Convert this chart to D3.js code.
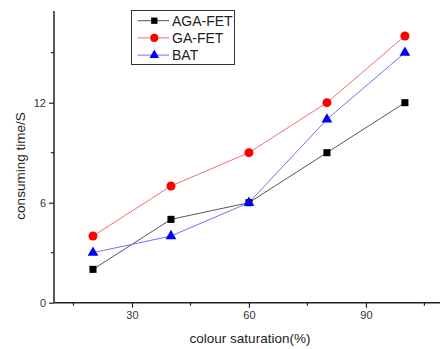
<!DOCTYPE html>
<html><head><meta charset="utf-8">
<script src="https://cdn.jsdelivr.net/npm/d3@7/dist/d3.min.js"></script>
<style>body{margin:0;background:#fff}svg{display:block;font-family:"Liberation Sans",Arial,sans-serif}</style>
</head><body><svg id="c" width="440" height="349"></svg>
<script>
const saturation = [20, 40, 60, 80, 100];
const agaFet = [2, 5, 6, 9, 12];
const gaFet = [4, 7, 9, 12, 16];
const bat = [3, 4, 6, 11, 15];
const seriesNames = ["AGA-FET", "GA-FET", "BAT"];
const xTicks = [30, 60, 90];
const yTicks = [0, 6, 12];

const svg = d3.select("#c");
const x = d3.scaleLinear().domain([10, 109]).range([54, 440]);
const y = d3.scaleLinear().domain([0, 17.5]).range([302.7, 11]);

const series = [
  {name: seriesNames[0], vals: agaFet, color: "#000", line: "#555", shape: d3.symbolSquare, size: 50},
  {name: seriesNames[1], vals: gaFet, color: "#f00", line: "#f07070", shape: d3.symbolCircle, size: 64},
  {name: seriesNames[2], vals: bat, color: "#00f", line: "#7070f0", shape: d3.symbolTriangle, size: 50}
];

// axes
const xAxis = d3.axisBottom(x).tickValues(xTicks).tickSize(5).tickPadding(4);
const gx = svg.append("g").attr("transform", `translate(0,${y(0)})`).call(xAxis);
const yAxis = d3.axisLeft(y).tickValues(yTicks).tickSize(5).tickPadding(3);
const gy = svg.append("g").attr("transform", `translate(${x(10)},0)`).call(yAxis);
[gx, gy].forEach(g => {
  g.select(".domain").attr("stroke", "#222").attr("stroke-width", 1.5);
  g.selectAll(".tick line").attr("stroke", "#222").attr("stroke-width", 1.2);
  g.selectAll(".tick text").attr("font-size", 11).attr("fill", "#333").attr("font-family", '"Liberation Sans",Arial,sans-serif');
});
gx.select(".domain").attr("d", `M${x(10)},0H440`);
gy.select(".domain").attr("d", `M0,${y(17.5)}V${y(0)}`);
// minor ticks
svg.append("g").selectAll("line").data([15, 45, 75, 105]).join("line")
  .attr("x1", d => x(d)).attr("x2", d => x(d)).attr("y1", y(0)).attr("y2", y(0) + 3)
  .attr("stroke", "#222").attr("stroke-width", 1.2);
svg.append("g").selectAll("line").data([3, 9, 15]).join("line")
  .attr("x1", x(10)).attr("x2", x(10) - 3).attr("y1", d => y(d)).attr("y2", d => y(d))
  .attr("stroke", "#222").attr("stroke-width", 1.2);

// axis labels
svg.append("text").attr("x", 250).attr("y", 343).attr("text-anchor", "middle")
  .attr("font-size", 13.5).attr("fill", "#222").text("colour saturation(%)");
svg.append("text").attr("transform", "translate(25,166) rotate(-90)").attr("text-anchor", "middle")
  .attr("font-size", 13.5).attr("fill", "#222").text("consuming time/S");

// series
const line = d3.line().x(d => x(d[0])).y(d => y(d[1]));
series.forEach(s => {
  const pts = saturation.map((v, i) => [v, s.vals[i]]);
  svg.append("path").attr("d", line(pts)).attr("fill", "none").attr("stroke", s.line).attr("stroke-width", 1);
});
series.forEach(s => {
  const pts = saturation.map((v, i) => [v, s.vals[i]]);
  svg.append("g").selectAll("path").data(pts).join("path")
    .attr("transform", d => `translate(${x(d[0])},${y(d[1])})`)
    .attr("d", d3.symbol().type(s.shape).size(s.size)).attr("fill", s.color);
});

// legend
const lg = svg.append("g");
lg.append("rect").attr("x", 131.5).attr("y", 10.5).attr("width", 103).attr("height", 54)
  .attr("fill", "#fff").attr("stroke", "#333").attr("stroke-width", 1);
series.forEach((s, i) => {
  const yy = 20.7 + i * 17.2;
  lg.append("line").attr("x1", 137.5).attr("x2", 169).attr("y1", yy).attr("y2", yy)
    .attr("stroke", s.line).attr("stroke-width", 1);
  lg.append("path").attr("transform", `translate(154.3,${yy})`)
    .attr("d", d3.symbol().type(s.shape).size(s.size * 0.8)).attr("fill", s.color);
  lg.append("text").attr("x", 172).attr("y", yy + 5).attr("font-size", 14).attr("fill", "#222").text(s.name);
});
</script></body></html>
